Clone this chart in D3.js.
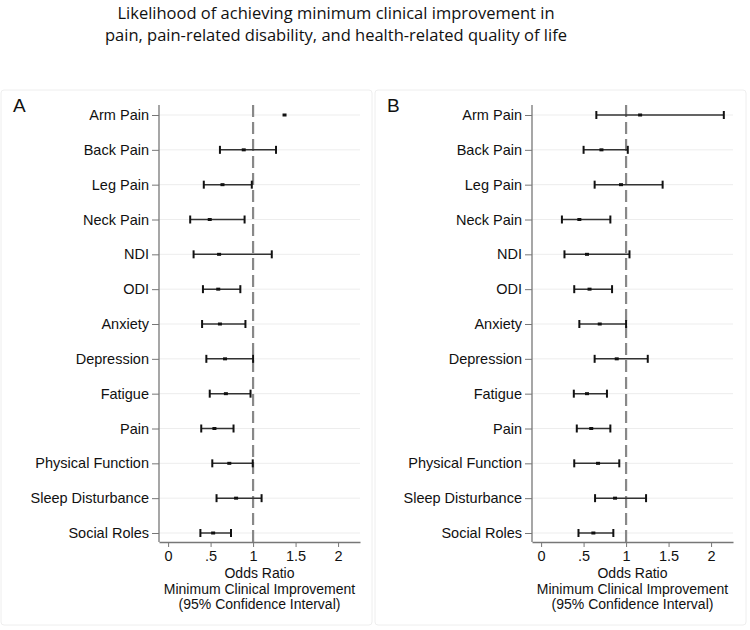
<!DOCTYPE html>
<html>
<head>
<meta charset="utf-8">
<script src="https://cdn.jsdelivr.net/npm/d3@7"></script>
<style>
  body { margin: 0; background: #fff; }
  svg { display: block; font-family: "Liberation Sans", Arial, sans-serif; }
</style>
</head>
<body>
<div id="chart"></div>
<script>
const categories = ['Arm Pain', 'Back Pain', 'Leg Pain', 'Neck Pain', 'NDI', 'ODI', 'Anxiety',
  'Depression', 'Fatigue', 'Pain', 'Physical Function', 'Sleep Disturbance', 'Social Roles'];

// panel A (Arm Pain has no interval drawn)
const oddsA  = [1.37, 0.89, 0.64, 0.49, 0.60, 0.59, 0.61, 0.67, 0.68, 0.545, 0.72, 0.80, 0.53];
const lowerA = [null, 0.61, 0.42, 0.26, 0.30, 0.41, 0.40, 0.45, 0.49, 0.39, 0.52, 0.57, 0.38];
const upperA = [null, 1.27, 0.985, 0.90, 1.22, 0.85, 0.91, 1.00, 0.97, 0.77, 0.996, 1.10, 0.74];

// panel B
const oddsB  = [1.165, 0.71, 0.94, 0.45, 0.54, 0.57, 0.69, 0.89, 0.54, 0.59, 0.67, 0.87, 0.615];
const lowerB = [0.65, 0.50, 0.63, 0.245, 0.275, 0.39, 0.45, 0.63, 0.385, 0.42, 0.39, 0.635, 0.44];
const upperB = [2.15, 1.02, 1.43, 0.815, 1.04, 0.835, 1.00, 1.255, 0.775, 0.815, 0.92, 1.235, 0.85];

const xTicks = [0, 0.5, 1, 1.5, 2];
const xTickLabels = ['0', '.5', '1', '1.5', '2'];
const axisTitle = ['Odds Ratio', 'Minimum Clinical Improvement', '(95% Confidence Interval)'];
const title = ['Likelihood of achieving minimum clinical improvement in',
  'pain, pain-related disability, and health-related quality of life'];

const W = 750, H = 630;
const svg = d3.select('#chart').append('svg').attr('width', W).attr('height', H);

svg.append('g').selectAll('text').data(title).join('text')
  .attr('x', 336).attr('y', (d, i) => 19 + i * 22)
  .attr('text-anchor', 'middle')
  .style('font-family', '"Open Sans", "Noto Sans", sans-serif')
  .style('font-size', '16.5px').attr('fill', '#111')
  .text(d => d);

function drawPanel(label, frameX, axisX, odds, lower, upper) {
  const g = svg.append('g');
  const right = axisX + 201;

  g.append('rect')
    .attr('x', frameX).attr('y', 90).attr('width', 371).attr('height', 535)
    .attr('rx', 3).attr('fill', 'none').attr('stroke', '#eeeeee');

  g.append('text').attr('x', frameX + 12).attr('y', 112)
    .style('font-size', '19px').attr('fill', '#111').text(label);

  const x = d3.scaleLinear().domain([-0.107, 2.258]).range([axisX, right]);
  const y = d3.scalePoint().domain(categories).range([115, 533]);

  // gridlines
  g.append('g').selectAll('line').data(categories).join('line')
    .attr('x1', axisX).attr('x2', right)
    .attr('y1', d => y(d)).attr('y2', d => y(d))
    .attr('stroke', '#ededed').attr('stroke-width', 1);

  // y axis
  const yAxis = g.append('g').attr('transform', `translate(${axisX},0)`)
    .call(d3.axisLeft(y).tickSize(7).tickPadding(3));
  yAxis.select('.domain').remove();
  yAxis.selectAll('.tick line').attr('stroke', '#777');
  yAxis.selectAll('text').style('font-size', '14.5px').attr('fill', '#111');
  g.append('line').attr('x1', axisX).attr('x2', axisX).attr('y1', 105).attr('y2', 542)
    .attr('stroke', '#777').attr('stroke-width', 1.3);

  // x axis
  const xAxis = g.append('g').attr('transform', 'translate(0,542)')
    .call(d3.axisBottom(x).tickValues(xTicks).tickFormat((d, i) => xTickLabels[i])
      .tickSize(5).tickPadding(4).tickSizeOuter(0));
  xAxis.select('.domain').attr('stroke', '#777').attr('stroke-width', 1.3);
  xAxis.selectAll('.tick line').attr('stroke', '#777');
  xAxis.selectAll('text').style('font-size', '14.5px').attr('fill', '#111');

  g.append('g').selectAll('text').data(axisTitle).join('text')
    .attr('x', (axisX + right) / 2).attr('y', (d, i) => 578 + i * 15.5)
    .attr('text-anchor', 'middle').style('font-size', '14px').attr('fill', '#111')
    .text(d => d);

  // reference line at OR = 1
  g.append('line').attr('x1', x(1)).attr('x2', x(1)).attr('y1', 105).attr('y2', 542)
    .attr('stroke', '#888').attr('stroke-width', 2.2).attr('stroke-dasharray', '12,5');

  const rows = categories.map((c, i) => ({ c, or: odds[i], lo: lower[i], hi: upper[i] }));
  const ci = rows.filter(d => d.lo != null);

  g.append('g').selectAll('line').data(ci).join('line')
    .attr('x1', d => x(d.lo)).attr('x2', d => x(d.hi))
    .attr('y1', d => y(d.c)).attr('y2', d => y(d.c))
    .attr('stroke', '#333').attr('stroke-width', 1.5);
  ['lo', 'hi'].forEach(k => {
    g.append('g').selectAll('line').data(ci).join('line')
      .attr('x1', d => x(d[k])).attr('x2', d => x(d[k]))
      .attr('y1', d => y(d.c) - 4).attr('y2', d => y(d.c) + 4)
      .attr('stroke', '#111').attr('stroke-width', 2);
  });

  g.append('g').selectAll('rect').data(rows).join('rect')
    .attr('x', d => x(d.or) - 2).attr('y', d => y(d.c) - 1.5)
    .attr('width', 4).attr('height', 3).attr('fill', '#111');
}

drawPanel('A', 1, 159, oddsA, lowerA, upperA);
drawPanel('B', 375, 532, oddsB, lowerB, upperB);
</script>
</body>
</html>
